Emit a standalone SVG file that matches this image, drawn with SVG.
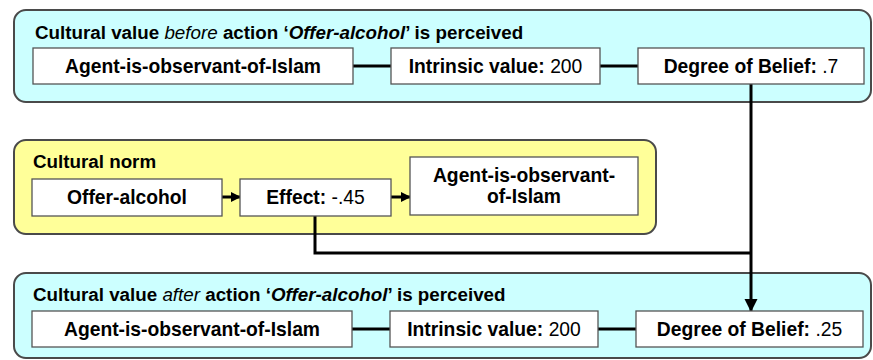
<svg xmlns="http://www.w3.org/2000/svg" width="873" height="360" viewBox="0 0 873 360">
<defs>
<style>
.cont{stroke:#4a4a4a;stroke-width:2}
.cyan{fill:#ccffff}
.yel{fill:#ffff99}
.box{fill:#ffffff;stroke:#555555;stroke-width:1.3}
text{font-family:"Liberation Sans",Arial,sans-serif;fill:#000}
.t{font-size:18.8px;font-weight:bold}
.b{font-size:19.3px;font-weight:bold}
.n{font-weight:normal}
.c{text-anchor:middle}
.ln{stroke:#000;stroke-width:3;fill:none}
</style>
<marker id="ah" markerWidth="12" markerHeight="12" refX="9" refY="5.5" orient="auto" markerUnits="userSpaceOnUse">
<path d="M0,0.5 L10,5.5 L0,10.5 Z" fill="#000"/>
</marker>
<marker id="ahL" markerWidth="14" markerHeight="14" refX="12" refY="6.5" orient="auto" markerUnits="userSpaceOnUse">
<path d="M0,0 L13,6.5 L0,13 Z" fill="#000"/>
</marker>
</defs>
<rect width="873" height="360" fill="#ffffff"/>

<g id="before">
<rect class="cont cyan" x="14" y="10" width="857" height="92" rx="12"/>
<text class="t" x="35" y="39">Cultural value <tspan font-style="italic" font-weight="normal">before</tspan> action ‘<tspan font-style="italic">Offer-alcohol</tspan>’ is perceived</text>
</g>
<g id="norm">
<rect class="cont yel" x="14" y="140" width="642" height="94" rx="12"/>
<text class="t" x="33" y="168">Cultural norm</text>
</g>
<g id="after">
<rect class="cont cyan" x="14" y="273" width="857" height="85" rx="12"/>
<text class="t" x="33" y="301">Cultural value <tspan font-style="italic" font-weight="normal">after</tspan> action ‘<tspan font-style="italic">Offer-alcohol</tspan>’ is perceived</text>
</g>

<g id="connectors">
<line class="ln" x1="353" y1="66" x2="391" y2="66"/>
<line class="ln" x1="600" y1="66" x2="638" y2="66"/>
<line class="ln" x1="222" y1="197" x2="240" y2="197" marker-end="url(#ah)"/>
<line class="ln" x1="391" y1="197" x2="410" y2="197" marker-end="url(#ah)"/>
<polyline class="ln" points="315,216 315,253 751,253"/>
<line class="ln" x1="751" y1="84" x2="751" y2="311" marker-end="url(#ahL)"/>
<line class="ln" x1="352" y1="329" x2="390" y2="329"/>
<line class="ln" x1="598" y1="329" x2="636" y2="329"/>
</g>

<g id="n1">
<rect class="box" x="33" y="48" width="320" height="36"/>
<text class="b c" x="193" y="72.5">Agent-is-observant-of-Islam</text>
</g>
<g id="n2">
<rect class="box" x="391" y="48" width="209" height="36"/>
<text class="b c" x="495.5" y="72.5">Intrinsic value: <tspan class="n">200</tspan></text>
</g>
<g id="n3">
<rect class="box" x="638" y="48" width="226" height="36"/>
<text class="b c" x="751" y="72.5">Degree of Belief: <tspan class="n">.7</tspan></text>
</g>

<g id="n4">
<rect class="box" x="32" y="179" width="190" height="37"/>
<text class="b c" x="127" y="203.5">Offer-alcohol</text>
</g>
<g id="n5">
<rect class="box" x="240" y="179" width="151" height="37"/>
<text class="b c" x="315.5" y="203.5">Effect: <tspan class="n">-.45</tspan></text>
</g>
<g id="n6">
<rect class="box" x="410" y="157" width="228" height="58"/>
<text class="b c" x="524" y="182">Agent-is-observant-</text>
<text class="b c" x="524" y="203">of-Islam</text>
</g>

<g id="n7">
<rect class="box" x="32" y="311" width="320" height="36"/>
<text class="b c" x="192" y="335.5">Agent-is-observant-of-Islam</text>
</g>
<g id="n8">
<rect class="box" x="390" y="311" width="208" height="36"/>
<text class="b c" x="494" y="335.5">Intrinsic value: <tspan class="n">200</tspan></text>
</g>
<g id="n9">
<rect class="box" x="636" y="311" width="227" height="36"/>
<text class="b c" x="749.5" y="335.5">Degree of Belief: <tspan class="n">.25</tspan></text>
</g>
</svg>
